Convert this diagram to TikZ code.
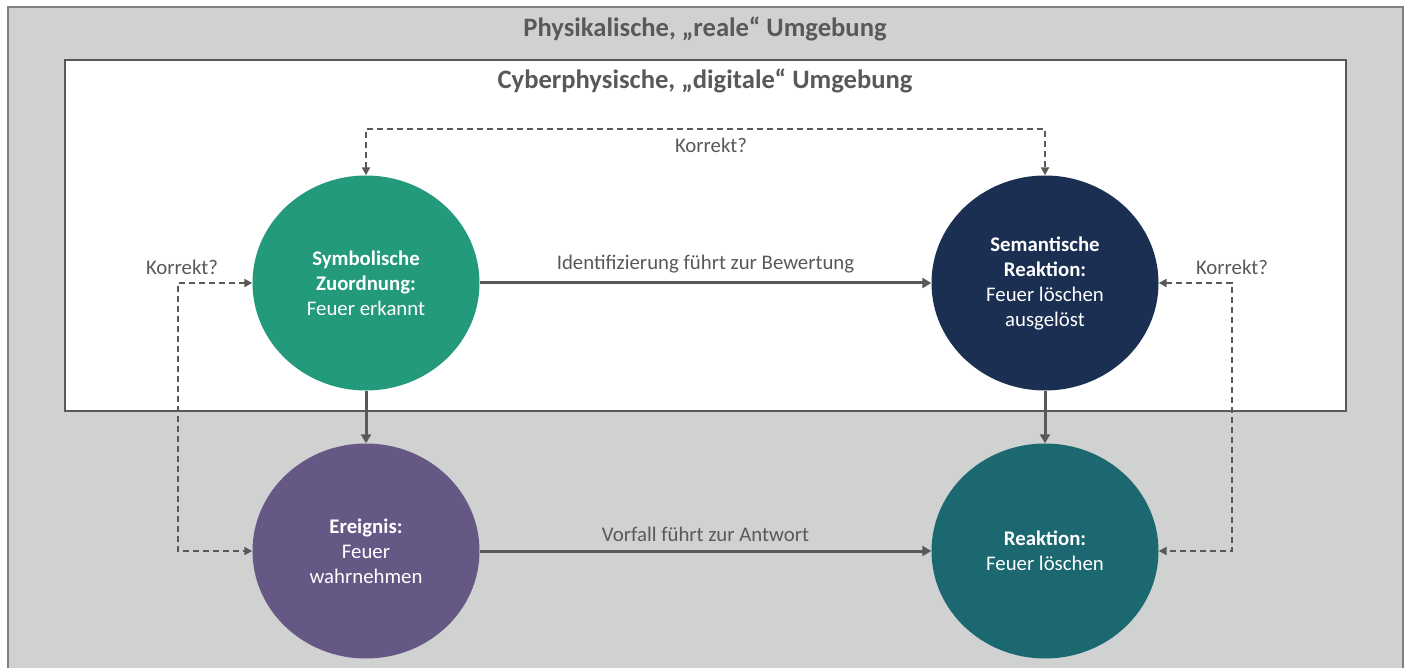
\documentclass[tikz,border=0pt]{standalone}
\usepackage{fontspec}
\setmainfont{Carlito}
\usetikzlibrary{arrows.meta,shapes.geometric}
\definecolor{bggrey}{HTML}{D0D2D1}
\definecolor{linegrey}{HTML}{595959}
\definecolor{outerline}{HTML}{7F7F7F}
\definecolor{cgreen}{HTML}{239A7B}
\definecolor{cnavy}{HTML}{1A2F51}
\definecolor{cpurple}{HTML}{665885}
\definecolor{cteal}{HTML}{1B6870}
\tikzset{
  circnode/.style={ellipse, minimum width=227pt, minimum height=215pt, inner sep=0pt,
    text=white, align=center, font=\fontsize{20.8}{25}\selectfont},
  solidarrow/.style={draw=linegrey, line width=3pt, -{Triangle[length=9pt,width=10pt]}},
  dasharrow/.style={draw=linegrey, line width=2pt, dash pattern=on 6pt off 4pt,
    {Triangle[length=8pt,width=8pt]}-{Triangle[length=8pt,width=8pt]}},
  lbl/.style={text=linegrey, font=\fontsize{20.8}{25}\selectfont},
  ttl/.style={text=linegrey, font=\fontsize{26.6}{32}\selectfont\bfseries}
}
\begin{document}
\begin{tikzpicture}[x=1pt,y=-1pt]
\useasboundingbox (0,0) rectangle (1408,668);
\draw[fill=bggrey, draw=outerline, line width=1.5pt] (8,7) rectangle (1403,690);
\draw[fill=white, draw=linegrey, line width=2pt] (65,60) rectangle (1346,411);
\node[ttl] (t1) at (705,29) {Physikalische, „reale“ Umgebung};
\node[ttl] (t2) at (705,81) {Cyberphysische, „digitale“ Umgebung};

\node[circnode, fill=cgreen] (sym) at (366,283) {\textbf{Symbolische}\\\textbf{Zuordnung:}\\Feuer erkannt};
\node[circnode, fill=cnavy] (sem) at (1045,283) {\textbf{Semantische}\\\textbf{Reaktion:}\\Feuer löschen\\ausgelöst};
\node[circnode, fill=cpurple] (ere) at (366,551) {\textbf{Ereignis:}\\Feuer\\wahrnehmen};
\node[circnode, fill=cteal] (rea) at (1045,551) {\textbf{Reaktion:}\\Feuer löschen};

\draw[solidarrow] (sym) -- (sem) node[lbl, midway, above=5pt] (l1) {Identifizierung führt zur Bewertung};
\draw[solidarrow] (ere) -- (rea) node[lbl, midway, above=5pt] (l2) {Vorfall führt zur Antwort};
\draw[solidarrow] (sym) -- (ere);
\draw[solidarrow] (sem) -- (rea);

\coordinate (tl) at (366,129);
\coordinate (tr) at (1045,129);
\draw[dasharrow] (sym.north) -- (tl) -- (tr) -- (sem.north);
\node[lbl] (k1) at (711,145) {Korrekt?};

\coordinate (lt) at (178,283);
\coordinate (lb) at (178,551);
\draw[dasharrow] (sym.west) -- (lt) -- (lb) -- (ere.west);
\node[lbl] (k2) at (182,267) {Korrekt?};

\coordinate (rt) at (1232,283);
\coordinate (rb) at (1232,551);
\draw[dasharrow] (sem.east) -- (rt) -- (rb) -- (rea.east);
\node[lbl] (k3) at (1232,267) {Korrekt?};
\end{tikzpicture}
\end{document}
